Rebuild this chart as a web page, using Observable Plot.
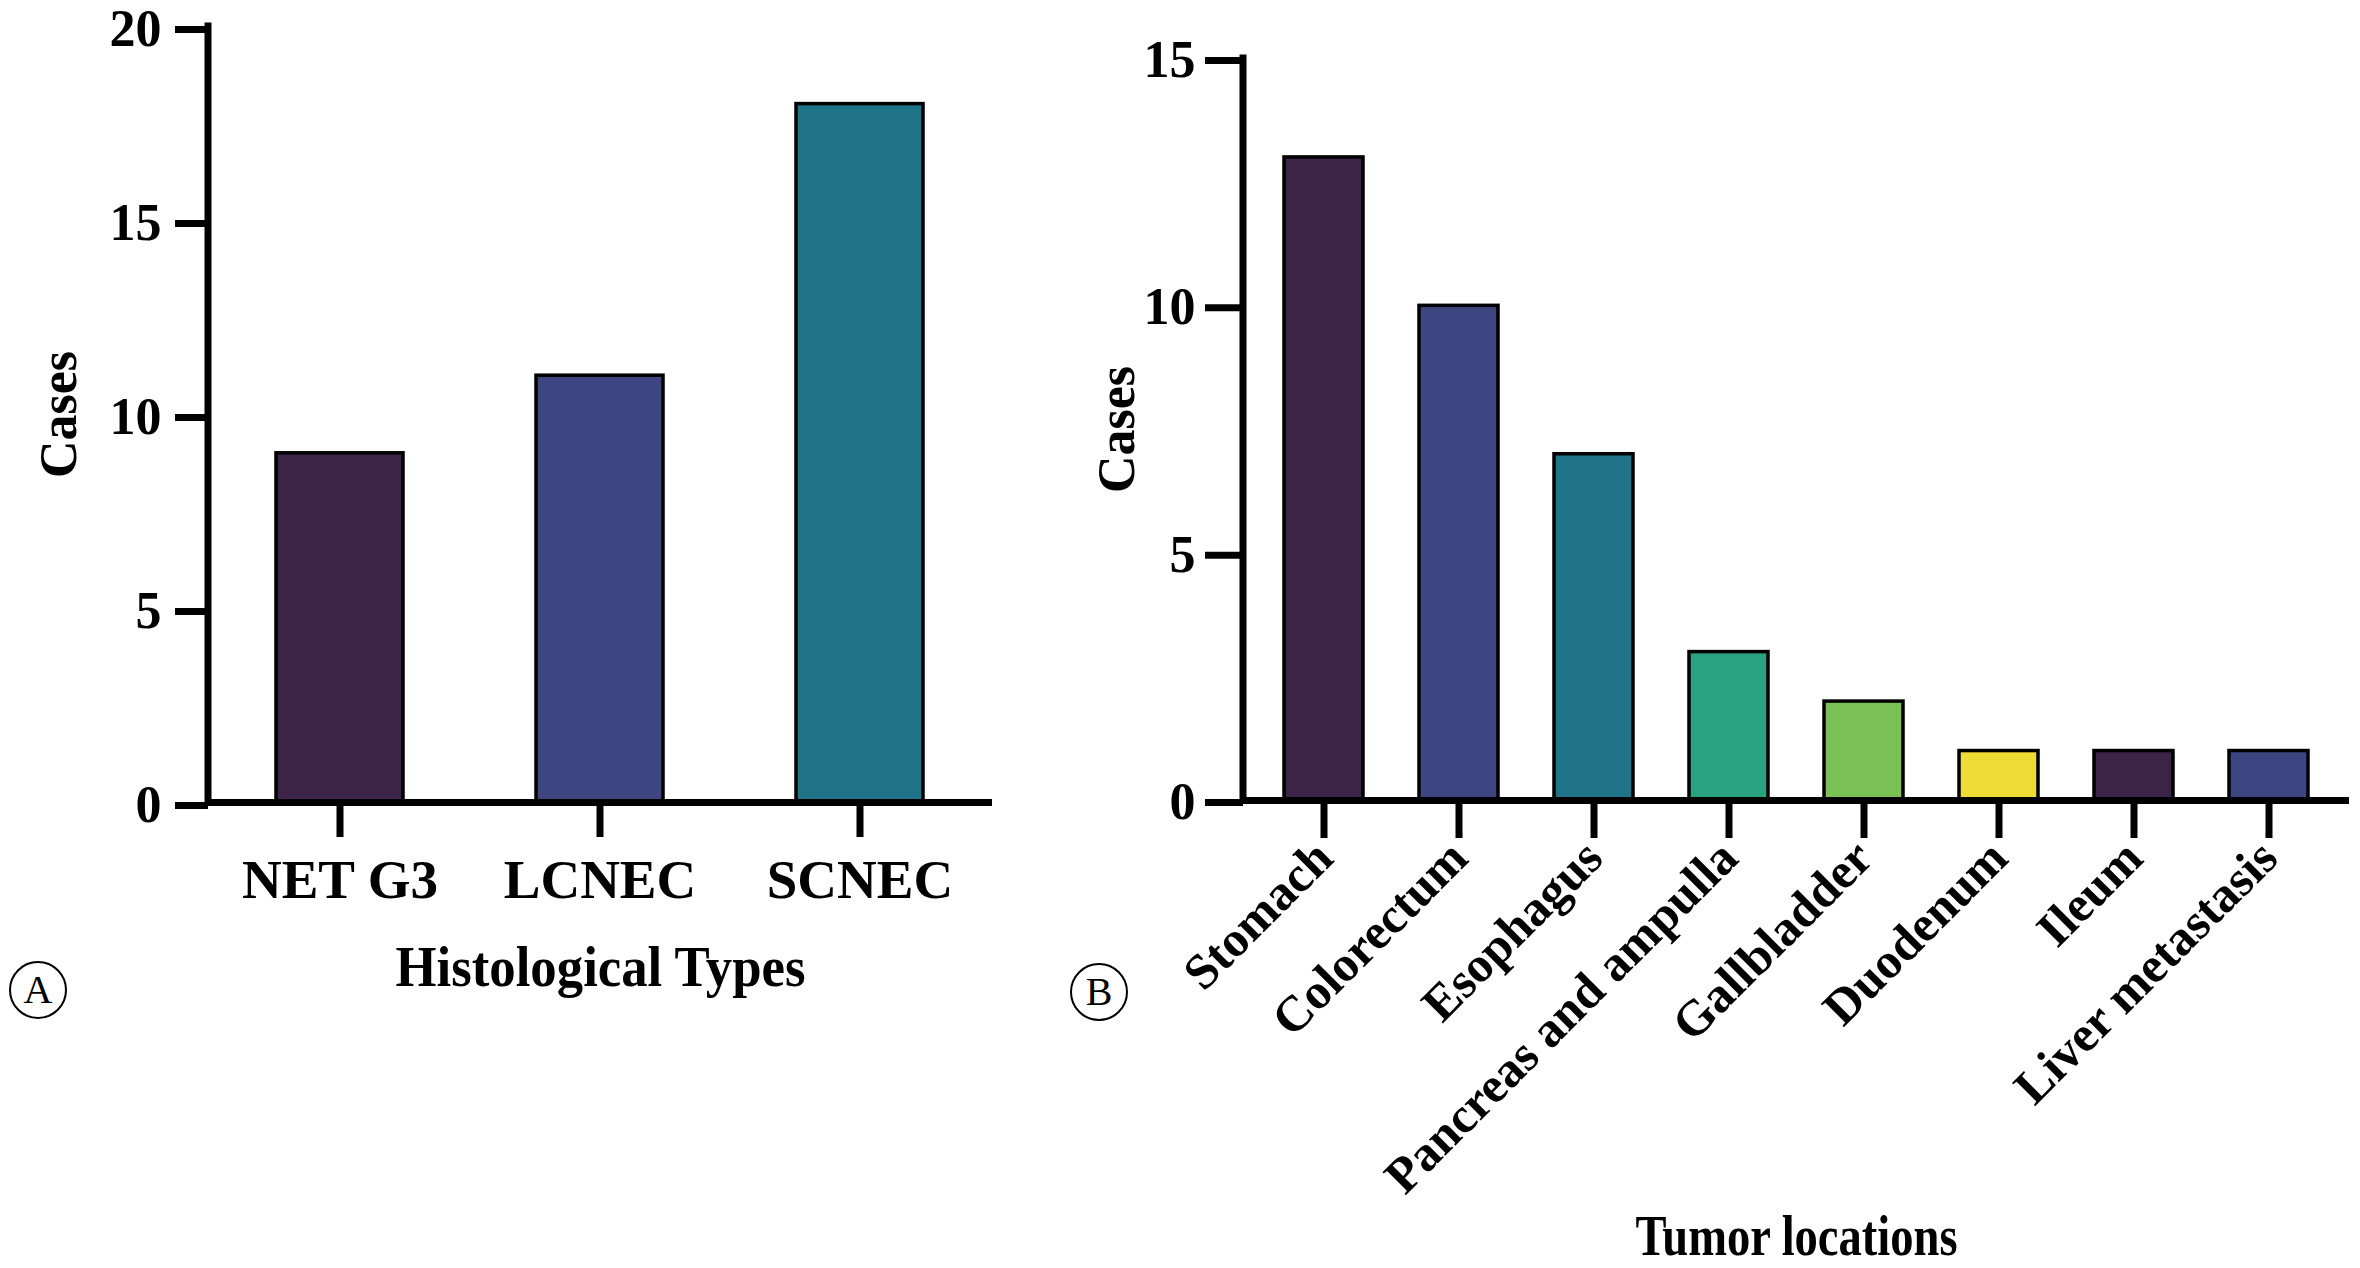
<!DOCTYPE html>
<html><head><meta charset="utf-8">
<script src="https://cdn.jsdelivr.net/npm/d3@7"></script>
<script src="https://cdn.jsdelivr.net/npm/@observablehq/plot@0.6"></script>
<style>
html,body{margin:0;padding:0;background:#fff;}
#root{position:relative;width:2360px;height:1268px;overflow:hidden;background:#fff;}
.panel{position:absolute;top:0;}
.tag{position:absolute;width:58px;height:58px;border:2.5px solid #000;border-radius:50%;box-sizing:border-box;font-family:'Liberation Serif','Times New Roman',serif;font-size:40px;line-height:54px;text-align:center;color:#000;}
</style></head><body><div id="root"></div>
<script>
// Panel A data
const histTypes = ["NET G3", "LCNEC", "SCNEC"];
const histCases = [9, 11, 18];
const histColors = ["#3b2447", "#3d4680", "#20748a"];
const histTicks = [0, 5, 10, 15, 20];

// Panel B data
const locations = ["Stomach", "Colorectum", "Esophagus", "Pancreas and ampulla", "Gallbladder", "Duodenum", "Ileum", "Liver metastasis"];
const locCases = [13, 10, 7, 3, 2, 1, 1, 1];
const locColors = ["#3b2447", "#3d4680", "#20748a", "#29a27f", "#7cc155", "#eedb33", "#3b2447", "#3d4680"];
const locTicks = [0, 5, 10, 15];

const FONT = "'Liberation Serif','Times New Roman',serif";

function yAxisLine(yMax) {
  return (index, scales, values, dims) => {
    const ns = "http://www.w3.org/2000/svg";
    const l = document.createElementNS(ns, "line");
    const x = dims.marginLeft;
    l.setAttribute("x1", x); l.setAttribute("x2", x);
    l.setAttribute("y1", scales.y(yMax) - 3.5);
    l.setAttribute("y2", scales.y(0) + 3.5);
    l.setAttribute("stroke", "#000");
    l.setAttribute("stroke-width", 7);
    return l;
  };
}

const root = document.getElementById("root");

const dataA = histTypes.map((t, i) => ({type: t, cases: histCases[i]}));
const chartA = Plot.plot({
  width: 1060, height: 1268,
  marginLeft: 208, marginRight: 68, marginTop: 26, marginBottom: 466,
  style: {fontFamily: FONT, fontWeight: "bold", fontSize: "52px", color: "#000", background: "transparent", overflow: "visible"},
  x: {domain: histTypes, paddingInner: 0.51, paddingOuter: 0.257},
  y: {domain: [0, 20]},
  color: {domain: histTypes, range: histColors},
  marks: [
    Plot.barY(dataA, {x: "type", y: "cases", fill: "type", stroke: "#000", strokeWidth: 3.5}),
    Plot.ruleY([0], {stroke: "#000", strokeWidth: 7}),
    yAxisLine(20),
    Plot.axisY({ticks: histTicks, tickSize: 33, tickPadding: 14, strokeWidth: 7, fontSize: 52, dy: 3,
      label: "Cases", labelAnchor: "center", labelOffset: 169, labelArrow: "none"}),
    Plot.axisX({tickSize: 35, tickPadding: 21, strokeWidth: 7, fontSize: 55,
      label: "Histological Types", labelAnchor: "center", labelOffset: 183, labelArrow: "none"})
  ]
});
chartA.classList.add("panel");
chartA.style.left = "0px";
root.appendChild(chartA);

const dataB = locations.map((t, i) => ({loc: t, cases: locCases[i]}));
const chartB = Plot.plot({
  width: 1300, height: 1268,
  marginLeft: 183, marginRight: 11, marginTop: 58, marginBottom: 468,
  style: {fontFamily: FONT, fontWeight: "bold", fontSize: "52px", color: "#000", background: "transparent", overflow: "visible"},
  x: {domain: locations, paddingInner: 0.418, paddingOuter: 0.28},
  y: {domain: [0, 15]},
  color: {domain: locations, range: locColors},
  marks: [
    Plot.barY(dataB, {x: "loc", y: "cases", fill: "loc", stroke: "#000", strokeWidth: 3.5}),
    Plot.ruleY([0], {stroke: "#000", strokeWidth: 7}),
    yAxisLine(15),
    Plot.axisY({ticks: locTicks, tickSize: 38, tickPadding: 10, strokeWidth: 7, fontSize: 52, dy: 2,
      label: "Cases", labelAnchor: "center", labelOffset: 146, labelArrow: "none"}),
    Plot.axisX({tickSize: 38, tickPadding: 11, strokeWidth: 7, fontSize: 50, tickRotate: -45,
      label: "Tumor locations", labelAnchor: "center", labelOffset: 454, labelArrow: "none"})
  ]
});
chartB.classList.add("panel");
chartB.style.left = "1060px";
root.appendChild(chartB);

// slightly condensed axis titles as in the original
function condense(svg, str, len, size) {
  svg.querySelectorAll("text").forEach(t => {
    if (t.textContent === str) {
      t.setAttribute("font-size", size);
      t.setAttribute("textLength", len);
      t.setAttribute("lengthAdjust", "spacingAndGlyphs");
    }
  });
}
condense(chartA, "Histological Types", 410, 56);
condense(chartB, "Tumor locations", 322, 56);

// panel tags
[["A", 38, 990], ["B", 1099, 992]].forEach(([s, cx, cy]) => {
  const d = document.createElement("div");
  d.className = "tag";
  d.textContent = s;
  d.style.left = (cx - 29) + "px";
  d.style.top = (cy - 29) + "px";
  root.appendChild(d);
});
</script></body></html>
